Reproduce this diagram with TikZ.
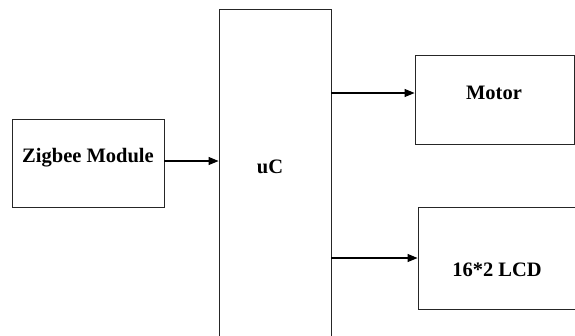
\documentclass[tikz,border=0pt]{standalone}
\usepackage{fontspec}
\setmainfont{Liberation Serif}
\usetikzlibrary{arrows.meta}
\begin{document}
\begin{tikzpicture}[x=1pt,y=-1pt,
  blockbox/.style={draw=black!85,line width=0.9pt,inner sep=0pt},
  lbl/.style={font=\rmfamily\bfseries\fontsize{20.5}{24}\selectfont,inner sep=0pt},
  arr/.style={draw=black,line width=1.1pt,-{Triangle[length=10pt,width=8pt]}}]
\useasboundingbox (0,0) rectangle (575,335);
\node[blockbox,minimum width=152pt,minimum height=88pt] (zig) at (88,163) {};
\node[blockbox,minimum width=112pt,minimum height=340pt] (uc) at (275,179) {};
\node[blockbox,minimum width=159pt,minimum height=89pt] (mot) at (494.5,99.5) {};
\node[blockbox,minimum width=160pt,minimum height=102pt] (lcd) at (498,258) {};
\node[lbl] (ziglbl) at (88,158) {Zigbee Module};
\node[lbl] (uclbl) at (270,167) {uC};
\node[lbl] (motlbl) at (494,93) {Motor};
\node[lbl] (lcdlbl) at (497,270) {16*2 LCD};
\draw[arr] (zig.east |- 0,161) -- (uc.west |- 0,161);
\draw[arr] (uc.east |- 0,93) -- (mot.west |- 0,93);
\draw[arr] (uc.east |- lcd.west) -- (lcd.west);
\end{tikzpicture}
\end{document}
